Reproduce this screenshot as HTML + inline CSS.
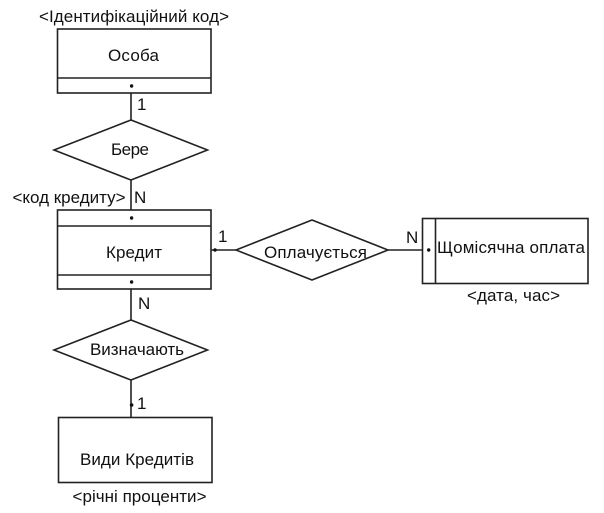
<!DOCTYPE html>
<html>
<head>
<meta charset="utf-8">
<style>
html,body{margin:0;padding:0;background:#fff;width:604px;height:513px;overflow:hidden}
svg{display:block}
text{font-family:"Liberation Sans",Arial,sans-serif;font-size:17px;fill:#111}
.s{fill:none;stroke:#222;stroke-width:1.6}
</style>
</head>
<body>
<svg width="604" height="513" viewBox="0 0 604 513">
<g class="s">
<rect x="57.500" y="29" width="153.500" height="64"/>
<line x1="57.500" y1="78" x2="211" y2="78"/>
<rect x="57.500" y="210" width="153.500" height="79"/>
<line x1="57.500" y1="226" x2="211" y2="226"/>
<line x1="57.500" y1="275" x2="211" y2="275"/>
<rect x="58.500" y="417.500" width="153.500" height="65"/>
<rect x="422.500" y="218.500" width="165.500" height="65"/>
<line x1="435.500" y1="218.500" x2="435.500" y2="283.500"/>
<polygon points="131,120 54,150 131,180 207.500,150"/>
<polygon points="131,320 54,350 131,380 207.500,350"/>
<polygon points="312,220 236,250 312,280 388,250"/>
<line x1="131" y1="93" x2="131" y2="120"/>
<line x1="131" y1="180" x2="131" y2="210"/>
<line x1="131" y1="289" x2="131" y2="320"/>
<line x1="131" y1="380" x2="131" y2="417.500"/>
<line x1="211" y1="250" x2="236" y2="250"/>
<line x1="388" y1="250" x2="422.500" y2="250"/>
</g>
<g fill="#111">
<circle cx="131.600" cy="86" r="1.700"/>
<circle cx="131.600" cy="218" r="1.700"/>
<circle cx="131.600" cy="282" r="1.700"/>
<circle cx="131.600" cy="405" r="1.800"/>
<circle cx="215" cy="250" r="1.700"/>
<circle cx="428.700" cy="250" r="1.700"/>
</g>
<text x="39" y="22" textLength="190">&lt;Ідентифікаційний код&gt;</text>
<text x="108" y="61" textLength="51">Особа</text>
<text x="111" y="155" textLength="38">Бере</text>
<text x="12.500" y="203" textLength="113">&lt;код кредиту&gt;</text>
<text x="106" y="258" textLength="56">Кредит</text>
<text x="90" y="355" textLength="94">Визначають</text>
<text x="80" y="465" textLength="114">Види Кредитів</text>
<text x="72.500" y="502" textLength="134">&lt;річні проценти&gt;</text>
<text x="264" y="258" textLength="103">Оплачується</text>
<text x="437" y="253" textLength="148">Щомісячна оплата</text>
<text x="467" y="301" textLength="93">&lt;дата, час&gt;</text>
<text x="137" y="110">1</text>
<text x="134" y="203">N</text>
<text x="138" y="309">N</text>
<text x="137" y="409">1</text>
<text x="218" y="242">1</text>
<text x="406" y="243">N</text>
</svg>
</body>
</html>
